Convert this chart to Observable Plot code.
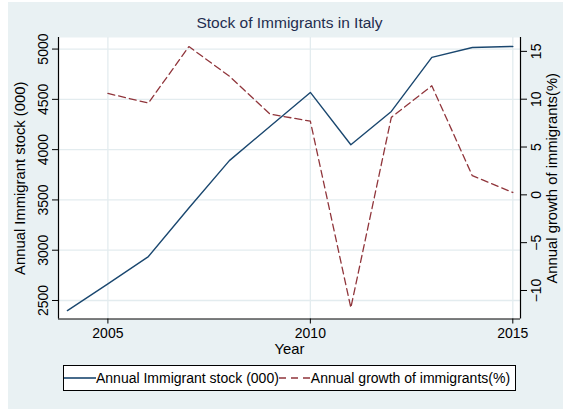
<!DOCTYPE html>
<html>
<head>
<meta charset="utf-8">
<script src="https://cdn.jsdelivr.net/npm/d3@7"></script>
<script src="https://cdn.jsdelivr.net/npm/@observablehq/plot@0.6"></script>
<style>
  html, body { margin: 0; padding: 0; background: #ffffff; width: 563px; height: 410px; overflow: hidden; }
  #bg { position: absolute; left: 8px; top: 2px; width: 555px; height: 407px; background: #e9f1f3; }
  .layer { position: absolute; left: 0; top: 0; }
  #legend {
    position: absolute; left: 63px; top: 365px; width: 453px; height: 26px; box-sizing: border-box;
    border: 1px solid #000; background: #fff; display: flex; align-items: center;
    font-family: "Liberation Sans", Arial, sans-serif; font-size: 14px; color: #000; white-space: nowrap;
  }
  #legend svg { display: block; flex: none; }
</style>
</head>
<body>
<div id="bg"></div>
<div id="a" class="layer"></div>
<div id="b" class="layer"></div>
<div id="legend"></div>
<script>
// ---- data ----
const years = [2004, 2005, 2006, 2007, 2008, 2009, 2010, 2011, 2012, 2013, 2014, 2015];
const stock = [2400, 2666, 2937, 3420, 3891, 4230, 4569, 4049, 4380, 4917, 5016, 5026];
const growthYears = [2005, 2006, 2007, 2008, 2009, 2010, 2011, 2012, 2013, 2014, 2015];
const growth = [10.6, 9.6, 15.5, 12.4, 8.45, 7.7, -11.8, 8.1, 11.4, 2.0, 0.25];
const yearTicks = [2005, 2010, 2015];
const stockTicks = [2500, 3000, 3500, 4000, 4500, 5000];
const growthTicks = [-10, -5, 0, 5, 10, 15];
const titleText = "Stock of Immigrants in Italy";
const xTitle = "Year";
const yLeftTitle = "Annual Immigrant stock (000)";
const yRightTitle = "Annual growth of immigrants(%)";
const legendLabels = ["Annual Immigrant stock (000)", "Annual growth of immigrants(%)"];

const stockData = years.map((year, i) => ({year, value: stock[i]}));
const growthData = growthYears.map((year, i) => ({year, value: growth[i]}));

const BLUE = "#1a476f", RED = "#90353b", GRID = "#e3ecef";
const FONT = "'Liberation Sans', Arial, Helvetica, sans-serif";
const xDomain = [2003.78, 2015.19];
const common = {
  width: 563, height: 360,
  marginLeft: 58, marginRight: 43, marginTop: 37, marginBottom: 41.5,
  style: {background: "transparent", fontFamily: FONT, fontSize: "14px", color: "#000", overflow: "visible"}
};
const minus = d => d < 0 ? "\u2212" + Math.abs(d) : String(d);

const plotA = Plot.plot({
  ...common,
  x: {domain: xDomain},
  y: {domain: [2316, 5115]},
  marks: [
    Plot.frame({fill: "white", stroke: "none"}),
    Plot.gridY(stockTicks, {stroke: GRID, strokeOpacity: 1, strokeWidth: 1.3}),
    Plot.gridX(yearTicks, {stroke: GRID, strokeOpacity: 1, strokeWidth: 1.3}),
    Plot.axisY(stockTicks, {tickSize: 6, tickRotate: -90, tickPadding: 5, label: null, fontSize: 14, tickFormat: d => String(d)}),
    Plot.axisX(yearTicks, {tickSize: 5, tickPadding: 4.5, label: null, fontSize: 14, tickFormat: d => String(d)}),
    Plot.ruleX([xDomain[0]], {stroke: "#000", strokeWidth: 1.2}),
    Plot.ruleY([2316], {stroke: "#000", strokeWidth: 1.2}),
    Plot.lineY(stockData, {x: "year", y: "value", stroke: BLUE, strokeWidth: 1.4}),
    Plot.text([titleText], {frameAnchor: "top", lineAnchor: "bottom", dy: -9.5, fontSize: 15.5, fill: "#1f2d4f"}),
    Plot.text([xTitle], {frameAnchor: "bottom", lineAnchor: "bottom", dy: 34.5, fontSize: 14.8, fill: "#000"}),
    Plot.text([yLeftTitle], {frameAnchor: "left", textAnchor: "middle", dx: -38.5, rotate: -90, fontSize: 14.8, fill: "#000"})
  ]
});

const plotB = Plot.plot({
  ...common,
  x: {domain: xDomain, axis: null},
  y: {domain: [-12.98, 16.45]},
  marks: [
    Plot.axisY(growthTicks, {anchor: "right", tickSize: 6, tickRotate: -90, tickPadding: 5, lineAnchor: "top", label: null, fontSize: 14, tickFormat: minus}),
    Plot.ruleX([xDomain[1]], {stroke: "#000", strokeWidth: 1.2}),
    Plot.lineY(growthData, {x: "year", y: "value", stroke: RED, strokeWidth: 1.3, strokeDasharray: "7,4"}),
    Plot.text([yRightTitle], {frameAnchor: "right", textAnchor: "middle", dx: 31.7, rotate: -90, fontSize: 14.8, fill: "#000"})
  ]
});

document.getElementById("a").appendChild(plotA);
document.getElementById("b").appendChild(plotB);

// ---- legend ----
const legend = d3.select("#legend");
function key(color, dash) {
  const s = legend.append("svg").attr("width", 32).attr("height", 12);
  s.append("line").attr("x1", 0).attr("x2", 32).attr("y1", 6).attr("y2", 6)
    .attr("stroke", color).attr("stroke-width", 1.6).attr("stroke-dasharray", dash || null);
}
key(BLUE);
legend.append("span").text(legendLabels[0]);
key(RED, "7,5");
legend.append("span").text(legendLabels[1]);
</script>
</body>
</html>
